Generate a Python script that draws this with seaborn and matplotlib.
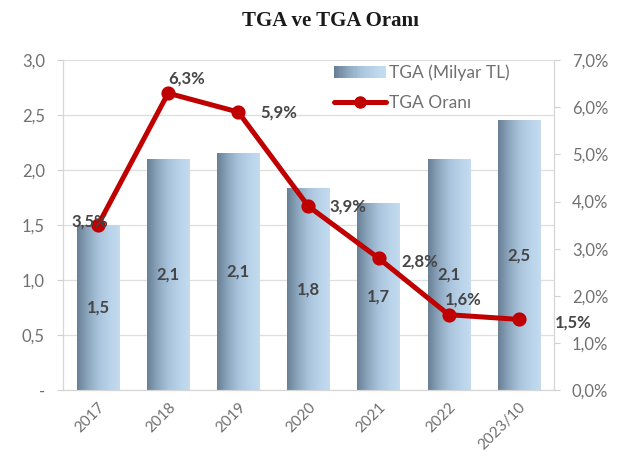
import numpy as np
import pandas as pd
import matplotlib
matplotlib.use("Agg")
import matplotlib.pyplot as plt
import seaborn as sns
from matplotlib.colors import LinearSegmentedColormap
from matplotlib.patches import Rectangle
from matplotlib.lines import Line2D
from matplotlib.legend_handler import HandlerBase
from matplotlib.ticker import FixedLocator

years = ["2017", "2018", "2019", "2020", "2021", "2022", "2023/10"]
tga = [1.5, 2.1, 2.15, 1.83, 1.70, 2.1, 2.45]
tga_labels = ["1,5", "2,1", "2,1", "1,8", "1,7", "2,1", "2,5"]
oran = [3.5, 6.3, 5.9, 3.9, 2.8, 1.6, 1.5]
oran_labels = ["3,5%", "6,3%", "5,9%", "3,9%", "2,8%", "1,6%", "1,5%"]
left_ticks = [0, 0.5, 1.0, 1.5, 2.0, 2.5, 3.0]
left_ticklabels = ["-", "0,5", "1,0", "1,5", "2,0", "2,5", "3,0"]
right_ticks = [0, 1, 2, 3, 4, 5, 6, 7]
right_ticklabels = ["0,0%", "1,0%", "2,0%", "3,0%", "4,0%", "5,0%", "6,0%", "7,0%"]

df = pd.DataFrame({"Yil": years, "TGA": tga, "Oran": oran})

sns.set_style("white")
plt.rcParams["font.family"] = ["Lato", "DejaVu Sans"]

grad_cmap = LinearSegmentedColormap.from_list(
    "g", ["#687f95", "#8ca6bd", "#a8c3db", "#b8d2e9", "#c4dcef"])
gray = "#707070"
dark = "#454545"

fig = plt.figure(figsize=(6.23, 4.74), dpi=100)
ax = fig.add_axes([0.101, 0.177, 0.788, 0.696])

sns.barplot(data=df, x="Yil", y="TGA", ax=ax, width=0.6, color="#9fb8cf",
            edgecolor="none", zorder=2)
ax.set_xlim(-0.5, 6.5)
ax.set_ylim(0, 3.0)

grad = np.linspace(0, 1, 256).reshape(1, -1)
for p, lab in zip(ax.patches, tga_labels):
    x0, y0 = p.get_x(), p.get_y()
    w, h = p.get_width(), p.get_height()
    ax.imshow(grad, cmap=grad_cmap, extent=[x0, x0 + w, y0, y0 + h],
              aspect="auto", zorder=2.5, interpolation="bicubic")
    p.set_facecolor("none")
    ax.text(x0 + w / 2, y0 + h / 2, lab, ha="center", va="center",
            fontsize=12, fontweight="bold", color=dark, zorder=6)
ax.set_xlim(-0.5, 6.5)
ax.set_ylim(0, 3.0)

ax.set_yticks(left_ticks)
ax.set_yticklabels(left_ticklabels)
ax.yaxis.grid(True, color="#dedede", linewidth=0.9, zorder=0)
ax.set_axisbelow(True)
ax.set_xlabel("")
ax.set_ylabel("")
ax.set_xticks(range(len(years)))
ax.set_xticklabels(years, rotation=45, ha="right", rotation_mode="anchor")
ax.tick_params(axis="x", length=0, labelsize=11, colors=gray, pad=7)
ax.xaxis.set_minor_locator(FixedLocator(np.arange(-0.5, 7.0, 1.0)))
ax.tick_params(axis="x", which="minor", length=4, color="#d0d0d0")
ax.tick_params(axis="y", length=4, color="#d0d0d0", labelsize=12,
               labelcolor=gray, pad=9)
ax.spines["top"].set_visible(False)
for s in ["left", "bottom", "right"]:
    ax.spines[s].set_color("#d6d6d6")

ax2 = ax.twinx()
sns.pointplot(data=df, x="Yil", y="Oran", ax=ax2, color="#c00000",
              markers="o", linestyles="-", markersize=7.5, linewidth=3.6,
              zorder=5)
ax2.set_ylim(0, 7)
ax2.set_xlim(-0.5, 6.5)
ax2.set_yticks(right_ticks)
ax2.set_yticklabels(right_ticklabels)
ax2.set_ylabel("")
ax2.tick_params(axis="y", length=4, color="#d0d0d0", labelsize=12,
                labelcolor=gray, pad=9)
ax2.spines["top"].set_visible(False)
for s in ["left", "bottom", "right"]:
    ax2.spines[s].set_color("#d6d6d6")

offsets = [(-0.12, 0.07, "center"), (0.26, 0.32, "center"), (0.31, -0.02, "left"),
           (0.3, 0.0, "left"), (0.33, -0.08, "left"), (0.21, 0.32, "center"),
           (0.51, -0.06, "left")]
for i, (lab, v) in enumerate(zip(oran_labels, oran)):
    dx, dy, ha = offsets[i]
    ax2.text(i + dx, v + dy, lab, ha=ha, va="center", fontsize=12,
             fontweight="bold", color=dark, zorder=7, clip_on=False)


class GradHandler(HandlerBase):
    def create_artists(self, legend, orig_handle, xdescent, ydescent, width,
                       height, fontsize, trans):
        arts = []
        n = 24
        for k in range(n):
            r = Rectangle((-xdescent + width * k / n, -ydescent), width / n + 0.3,
                          height, facecolor=grad_cmap(k / (n - 1)),
                          edgecolor="none", transform=trans)
            arts.append(r)
        return arts


bar_handle = Rectangle((0, 0), 1, 1)
line_handle = Line2D([], [], color="#c00000", linewidth=3.6, marker="o",
                     markersize=8)
leg = ax2.legend([bar_handle, line_handle], ["TGA (Milyar TL)", "TGA Oranı"],
                 handler_map={Rectangle: GradHandler()},
                 loc="upper left", bbox_to_anchor=(0.52, 1.035), frameon=False,
                 fontsize=12.5, labelcolor=gray, handlelength=3.0,
                 handletextpad=0.15, labelspacing=0.8)

fig.text(0.53, 0.955, "TGA ve TGA Oranı", ha="center", va="center",
         fontsize=15, fontweight="bold", family=["Liberation Serif"],
         color="#1a1a1a")

fig.savefig("out.png", dpi=100)
